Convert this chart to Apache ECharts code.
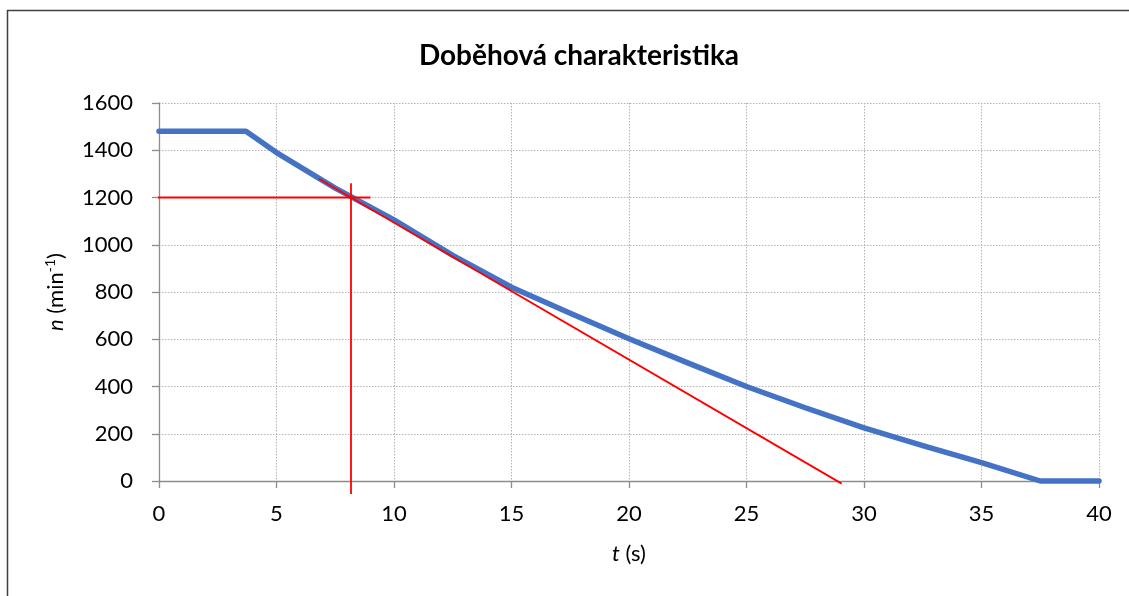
<!DOCTYPE html>
<html>
<head>
<meta charset="utf-8">
<script src="https://cdn.jsdelivr.net/npm/echarts@6/dist/echarts.min.js"></script>
<style>
html,body{margin:0;padding:0;background:#fff;}
#c{width:1129px;height:596px;}
</style>
</head>
<body>
<div id="c"></div>
<script>
// Data
const timeS = [0, 3.7, 5, 7.5, 10, 12.5, 15, 17.5, 20, 22.5, 25, 27.5, 30, 32.5, 35, 37.5, 40];
const speedN = [1480, 1480, 1390, 1240, 1105, 955, 820, 710, 602, 500, 400, 310, 225, 150, 78, 0, 0];
const tangentT = [6.8, 29.05];
const tangentN = [1279, -11];
const hLineT = [-0.47, 9.0];
const hLineN = [1200, 1200];
const vLineT = [8.17, 8.17];
const vLineN = [1260, -55];
const xTicks = [0, 5, 10, 15, 20, 25, 30, 35, 40];
const yTicks = [0, 200, 400, 600, 800, 1000, 1200, 1400, 1600];

const zip = (a, b) => a.map((v, i) => [v, b[i]]);
const FONT = 'Lato';
const chart = echarts.init(document.getElementById('c'));
chart.setOption({
  animation: false,
  backgroundColor: '#fff',
  textStyle: { fontFamily: FONT },
  title: {
    text: 'Doběhová charakteristika',
    left: 574, top: 37, textAlign: 'center',
    textStyle: { fontFamily: FONT, fontWeight: 'bold', fontSize: 28, color: '#000' }
  },
  graphic: [{
    type: 'rect', silent: true, z: -1,
    shape: { x: 7.5, y: 10.5, width: 1200, height: 700 },
    style: { fill: 'none', stroke: '#404040', lineWidth: 1.5 }
  }],
  grid: { left: 159, right: 30, top: 103, bottom: 115 },
  xAxis: {
    type: 'value', min: xTicks[0], max: xTicks[xTicks.length - 1], interval: 5,
    name: '{i|t} (s)', nameLocation: 'middle', nameGap: 62,
    nameTextStyle: { fontSize: 22, color: '#000', fontFamily: FONT,
      rich: { i: { fontStyle: 'italic', fontSize: 22, color: '#000', fontFamily: FONT } } },
    axisLine: { onZero: false, lineStyle: { color: '#8c8c8c', width: 1.3 } },
    axisTick: { show: true, length: 7, lineStyle: { color: '#8c8c8c', width: 1.3 } },
    axisLabel: { fontSize: 22, color: '#000', margin: 22, fontFamily: FONT, formatter: v => String(v) },
    splitLine: { show: true, lineStyle: { color: '#b4b4b4', type: [1.5, 1.5], width: 1 } }
  },
  yAxis: {
    type: 'value', min: yTicks[0], max: yTicks[yTicks.length - 1], interval: 200,
    name: '{i|n} (min{s|-1})', nameLocation: 'middle', nameGap: 90, nameRotate: 90,
    nameTextStyle: { fontSize: 22, color: '#000', fontFamily: FONT, lineHeight: 26,
      rich: {
        i: { fontStyle: 'italic', fontSize: 22, color: '#000', fontFamily: FONT, lineHeight: 26 },
        s: { fontSize: 14, color: '#000', fontFamily: FONT, verticalAlign: 'top', lineHeight: 14 }
      } },
    axisLine: { show: true, onZero: false, lineStyle: { color: '#8c8c8c', width: 1.3 } },
    axisTick: { show: true, length: 7, lineStyle: { color: '#8c8c8c', width: 1.3 } },
    axisLabel: { fontSize: 22, color: '#000', margin: 26, fontFamily: FONT, formatter: v => String(v) },
    splitLine: { show: true, lineStyle: { color: '#b4b4b4', type: [1.5, 1.5], width: 1 } }
  },
  series: [
    { type: 'line', data: zip(timeS, speedN), showSymbol: false, clip: false,
      lineStyle: { color: '#4472C4', width: 5.5, cap: 'round', join: 'round' }, z: 3 },
    { type: 'line', data: zip(tangentT, tangentN), showSymbol: false, clip: false,
      lineStyle: { color: '#FF0000', width: 1.8 }, z: 4 },
    { type: 'line', data: zip(hLineT, hLineN), showSymbol: false, clip: false,
      lineStyle: { color: '#FF0000', width: 1.8 }, z: 4 },
    { type: 'line', data: zip(vLineT, vLineN), showSymbol: false, clip: false,
      lineStyle: { color: '#FF0000', width: 1.8 }, z: 4 }
  ]
});
</script>
</body>
</html>
